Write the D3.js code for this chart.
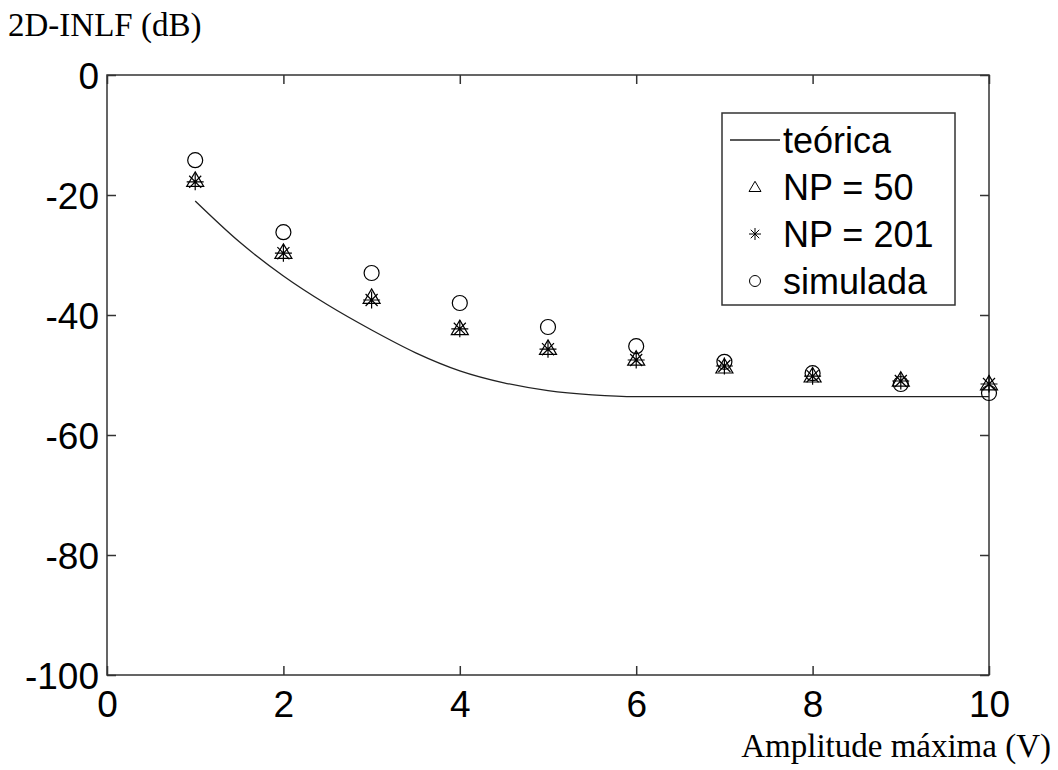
<!DOCTYPE html>
<html><head><meta charset="utf-8">
<script src="https://cdn.jsdelivr.net/npm/d3@7"></script>
<style>
body{margin:0;background:#fff;}
svg{display:block;}
</style></head>
<body>
<svg id="chart" width="1058" height="770"></svg>
<script>
// Data
const xTheory = [1, 1.5, 2, 2.5, 3, 3.5, 4, 4.5, 5, 5.5, 6, 7, 8, 9, 10];
const yTheory = [-21, -27.8, -33.5, -38.3, -42.5, -46.3, -49.3, -51.3, -52.6, -53.3, -53.6, -53.6, -53.6, -53.6, -53.6];
const xPoints = [1, 2, 3, 4, 5, 6, 7, 8, 9, 10];
const yNP50 = [-17.5, -29.5, -37.0, -42.2, -45.5, -47.3, -48.6, -50.1, -50.8, -51.4];
const yNP201 = [-17.8, -29.7, -37.5, -42.3, -45.7, -47.5, -48.5, -50.2, -51.0, -51.5];
const ySim = [-14.2, -26.2, -33.0, -38.0, -42.0, -45.2, -47.8, -49.7, -51.5, -53.0];
const xTicks = [0, 2, 4, 6, 8, 10];
const yTicks = [0, -20, -40, -60, -80, -100];
const legendLabels = ["teórica", "NP = 50", "NP = 201", "simulada"];
const yLabelText = "2D-INLF (dB)";
const xLabelText = "Amplitude máxima (V)";

const svg = d3.select("#chart");
const L = 107, R = 989, T = 75, B = 675;
const x = d3.scaleLinear().domain([0, 10]).range([L, R]);
const y = d3.scaleLinear().domain([-100, 0]).range([B, T]);
const axisColor = "#333";
const tickFont = "37px 'Liberation Sans', Arial, sans-serif";
const fmt = d => String(d);

// box
svg.append("rect").attr("x", L).attr("y", T).attr("width", R - L).attr("height", B - T)
  .attr("fill", "none").attr("stroke", axisColor).attr("stroke-width", 1.5);

// axes with inward ticks
const gx = svg.append("g").attr("transform", `translate(0,${B})`)
  .call(d3.axisBottom(x).tickValues(xTicks).tickSizeInner(-9).tickSizeOuter(0).tickPadding(16).tickFormat(fmt));
const gxTop = svg.append("g").attr("transform", `translate(0,${T})`)
  .call(d3.axisTop(x).tickValues(xTicks).tickSizeInner(-9).tickSizeOuter(0).tickFormat(""));
const gy = svg.append("g").attr("transform", `translate(${L},0)`)
  .call(d3.axisLeft(y).tickValues(yTicks).tickSizeInner(-9).tickSizeOuter(0).tickPadding(8).tickFormat(fmt));
const gyR = svg.append("g").attr("transform", `translate(${R},0)`)
  .call(d3.axisRight(y).tickValues(yTicks).tickSizeInner(-9).tickSizeOuter(0).tickFormat(""));
[gx, gxTop, gy, gyR].forEach(g => {
  g.select(".domain").remove();
  g.selectAll(".tick line").attr("stroke", axisColor).attr("stroke-width", 1.5);
  g.selectAll(".tick text").style("font", tickFont).attr("fill", "#000");
});
gx.selectAll(".tick text").attr("dy", "0.71em");
gy.selectAll(".tick text").attr("dy", "0.36em");

// theoretical line
const tData = xTheory.map((d, i) => [d, yTheory[i]]);
svg.append("path").datum(tData)
  .attr("d", d3.line().x(d => x(d[0])).y(d => y(d[1])).curve(d3.curveMonotoneX))
  .attr("fill", "none").attr("stroke", "#222").attr("stroke-width", 1.3);

// marker helpers
function triPath(cx, cy, s) {
  return `M${cx},${cy - s * 0.95}L${cx + s},${cy + s * 0.75}L${cx - s},${cy + s * 0.75}Z`;
}
function starPath(cx, cy, s) {
  const d = s * 0.707;
  return `M${cx},${cy - s}L${cx},${cy + s}M${cx - s},${cy}L${cx + s},${cy}` +
    `M${cx - d},${cy - d}L${cx + d},${cy + d}M${cx - d},${cy + d}L${cx + d},${cy - d}`;
}

const mk = svg.append("g");
xPoints.forEach((xv, i) => {
  mk.append("path").attr("d", triPath(x(xv), y(yNP50[i]), 8.5))
    .attr("fill", "none").attr("stroke", "#000").attr("stroke-width", 1.2);
});
xPoints.forEach((xv, i) => {
  mk.append("path").attr("d", starPath(x(xv), y(yNP201[i]), 8.5))
    .attr("fill", "none").attr("stroke", "#000").attr("stroke-width", 1.2);
});
xPoints.forEach((xv, i) => {
  mk.append("circle").attr("cx", x(xv)).attr("cy", y(ySim[i])).attr("r", 7.5)
    .attr("fill", "none").attr("stroke", "#000").attr("stroke-width", 1.2);
});

// legend
const lg = svg.append("g");
lg.append("rect").attr("x", 722).attr("y", 113).attr("width", 233).attr("height", 192)
  .attr("fill", "#fff").attr("stroke", axisColor).attr("stroke-width", 1.5);
const rowsY = [140, 187, 234, 281];
lg.append("line").attr("x1", 730).attr("x2", 780).attr("y1", rowsY[0]).attr("y2", rowsY[0])
  .attr("stroke", "#222").attr("stroke-width", 1.3);
lg.append("path").attr("d", triPath(755, rowsY[1], 6)).attr("fill", "none").attr("stroke", "#000").attr("stroke-width", 1);
lg.append("path").attr("d", starPath(755, rowsY[2], 6)).attr("fill", "none").attr("stroke", "#000").attr("stroke-width", 1);
lg.append("circle").attr("cx", 755).attr("cy", rowsY[3]).attr("r", 5.5).attr("fill", "none").attr("stroke", "#000").attr("stroke-width", 1);
legendLabels.forEach((t, i) => {
  lg.append("text").attr("x", 783).attr("y", rowsY[i]).attr("dy", "0.36em")
    .style("font", "36px 'Liberation Sans', Arial, sans-serif").attr("fill", "#000").text(t);
});

// axis titles
svg.append("text").attr("x", 8).attr("y", 36)
  .style("font", "33px 'Liberation Serif', 'Times New Roman', serif").attr("fill", "#000").text(yLabelText);
svg.append("text").attr("x", 1051).attr("y", 757).attr("text-anchor", "end")
  .style("font", "33px 'Liberation Serif', 'Times New Roman', serif").attr("fill", "#000").text(xLabelText);
</script>
</body></html>
